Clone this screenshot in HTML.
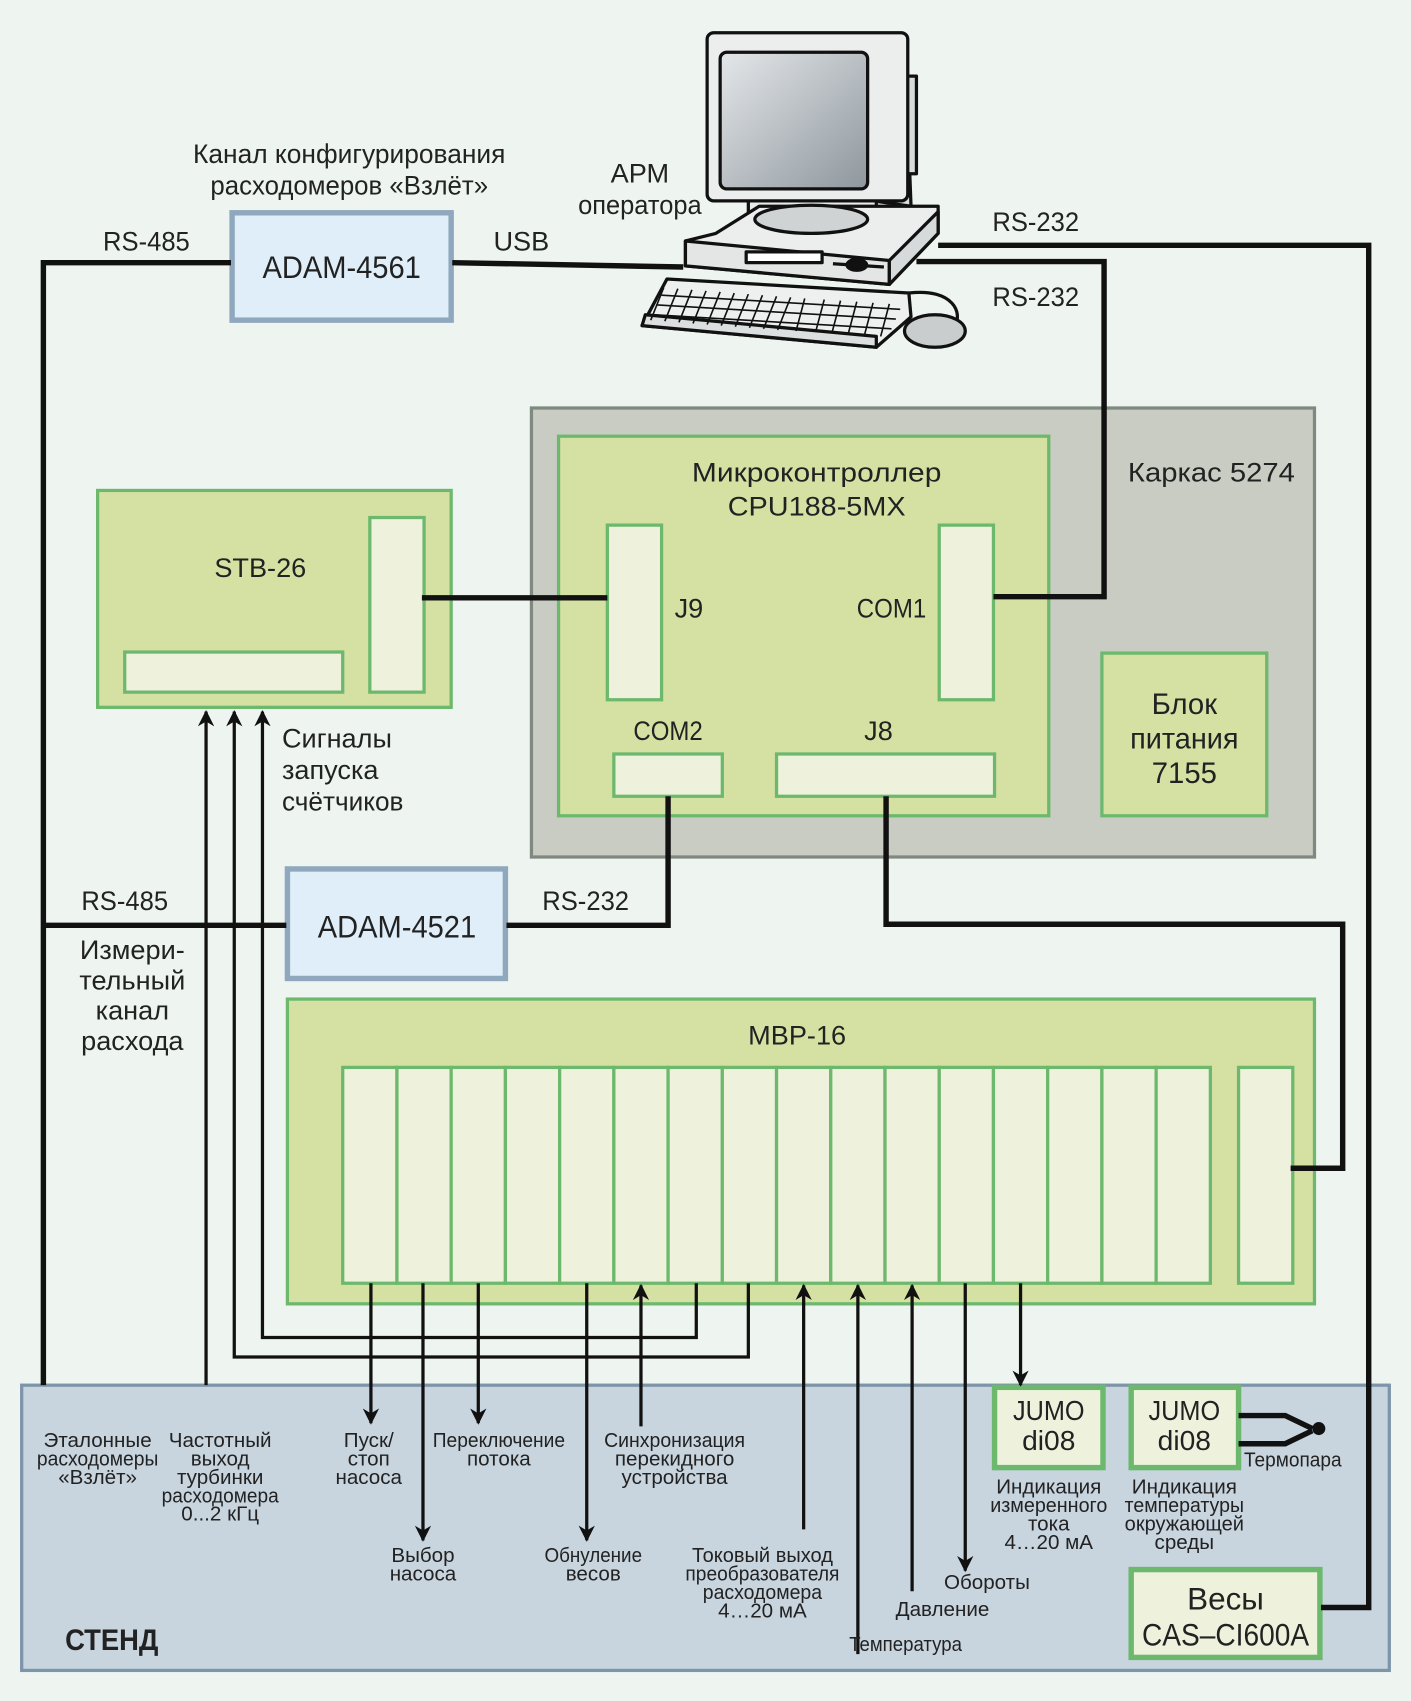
<!DOCTYPE html>
<html><head><meta charset="utf-8"><style>
html,body{margin:0;padding:0;background:#eef5f1}
svg{display:block}
text{font-family:"Liberation Sans Narrow","Liberation Sans","DejaVu Sans Condensed",sans-serif;fill:#222}
</style></head><body>
<svg width="1411" height="1701" viewBox="0 0 1301 1568" xmlns="http://www.w3.org/2000/svg">
<defs>
<marker id="ah" viewBox="0 0 10 10" refX="9" refY="5" markerWidth="7" markerHeight="5" orient="auto" markerUnits="strokeWidth">
<path d="M0,0 L10,5 L0,10 L3,5 z" fill="#111"/></marker>
<linearGradient id="scr" x1="0" y1="0" x2="1" y2="1"><stop offset="0" stop-color="#e4e7e9"/><stop offset="1" stop-color="#8e979e"/></linearGradient>
</defs>
<rect width="1301" height="1568" fill="#eef5f1"/>

<rect x="20" y="1277" width="1261" height="263" fill="#c8d5df" stroke="#7d95a8" stroke-width="3"/>

<rect x="490" y="376" width="722" height="414" fill="#c9ccc3" stroke="#7f8980" stroke-width="3"/>
<rect x="515" y="402" width="452" height="350" fill="#d5e0a3" stroke="#6cb86c" stroke-width="3"/>
<g fill="#eef2dc" stroke="#6cb86c" stroke-width="3">
<rect x="560" y="484" width="50" height="161"/>
<rect x="866" y="484" width="50" height="161"/>
<rect x="566" y="695" width="100" height="39"/>
<rect x="716" y="695" width="201" height="39"/>
</g>
<rect x="1016" y="602" width="152" height="150" fill="#d5e0a3" stroke="#6cb86c" stroke-width="3"/>

<rect x="90" y="452" width="326" height="200" fill="#d5e0a3" stroke="#6cb86c" stroke-width="3"/>
<rect x="341" y="477" width="50" height="161" fill="#eef2dc" stroke="#6cb86c" stroke-width="3"/>
<rect x="115" y="601" width="201" height="37" fill="#eef2dc" stroke="#6cb86c" stroke-width="3"/>

<rect x="214" y="196" width="202" height="99" fill="#dfeef8" stroke="#8fa8bd" stroke-width="5"/>
<rect x="265" y="801" width="201" height="101" fill="#dfeef8" stroke="#8fa8bd" stroke-width="5"/>

<rect x="265" y="921" width="947" height="281" fill="#d5e0a3" stroke="#6cb86c" stroke-width="3"/>
<g fill="#eef2dc" stroke="#6cb86c" stroke-width="3">
<rect x="316" y="984" width="50" height="199"/><rect x="366" y="984" width="50" height="199"/>
<rect x="416" y="984" width="50" height="199"/><rect x="466" y="984" width="50" height="199"/>
<rect x="516" y="984" width="50" height="199"/><rect x="566" y="984" width="50" height="199"/>
<rect x="616" y="984" width="50" height="199"/><rect x="666" y="984" width="50" height="199"/>
<rect x="716" y="984" width="50" height="199"/><rect x="766" y="984" width="50" height="199"/>
<rect x="816" y="984" width="50" height="199"/><rect x="866" y="984" width="50" height="199"/>
<rect x="916" y="984" width="50" height="199"/><rect x="966" y="984" width="50" height="199"/>
<rect x="1016" y="984" width="50" height="199"/><rect x="1066" y="984" width="50" height="199"/>
<rect x="1142" y="984" width="50" height="199"/>
</g>

<g fill="#eef2dc" stroke="#6cb86c" stroke-width="5">
<rect x="917" y="1279" width="100" height="74"/>
<rect x="1043" y="1279" width="99" height="74"/>
<rect x="1043" y="1447" width="174" height="81"/>
</g>

<g fill="none" stroke="#111" stroke-width="5" stroke-linejoin="miter">
<polyline points="40,1277 40,242 213,242"/>
<polyline points="417,242 630,246"/>
<polyline points="865,226 1262,226 1262,1482 1218,1482"/>
<polyline points="845,241 1018,241 1018,550 916,550"/>
<polyline points="389,551 560,551"/>
<polyline points="616,734 616,853 467,853"/>
<polyline points="40,853 264,853"/>
<polyline points="817,734 817,852 1238,852 1238,1077 1190,1077"/>
<polyline points="1142,1305 1185,1305 1210,1317"/>
<polyline points="1142,1331 1185,1331 1210,1319"/>
</g>
<circle cx="1216" cy="1317" r="6" fill="#111"/>
<g fill="none" stroke="#111" stroke-width="3">
<polyline points="642,1183 642,1233 242,1233 242,656" marker-end="url(#ah)"/>
<polyline points="690,1183 690,1251 216,1251 216,656" marker-end="url(#ah)"/>
<polyline points="190,1277 190,656" marker-end="url(#ah)"/>
<line x1="342" y1="1183" x2="342" y2="1312" marker-end="url(#ah)"/>
<line x1="390" y1="1183" x2="390" y2="1420" marker-end="url(#ah)"/>
<line x1="441" y1="1183" x2="441" y2="1312" marker-end="url(#ah)"/>
<line x1="541" y1="1183" x2="541" y2="1420" marker-end="url(#ah)"/>
<line x1="591" y1="1315" x2="591" y2="1185" marker-end="url(#ah)"/>
<line x1="741" y1="1410" x2="741" y2="1185" marker-end="url(#ah)"/>
<line x1="791" y1="1525" x2="791" y2="1185" marker-end="url(#ah)"/>
<line x1="841" y1="1467" x2="841" y2="1185" marker-end="url(#ah)"/>
<line x1="890" y1="1183" x2="890" y2="1448" marker-end="url(#ah)"/>
<line x1="941" y1="1183" x2="941" y2="1277" marker-end="url(#ah)"/>
</g>

<!-- computer -->
<g stroke="#111" stroke-width="3" stroke-linejoin="round">
<path d="M800,40 L835,60 L840,190 L805,185 z" fill="#d9dcdc"/>
<rect x="823" y="70" width="22" height="90" fill="#d9dcdc"/>
<path d="M690,172 L808,172 L808,195 L690,195 z" fill="#e9ebeb"/>
<path d="M660,215 L700,190 L865,190 L865,215 L820,262 L632,245 L632,222 z" fill="#eceeee"/>
<path d="M632,222 L820,240 L820,262 L632,245 z" fill="#e4e6e6"/>
<path d="M820,240 L865,195 L865,215 L820,262 z" fill="#d7dadb"/>
<ellipse cx="748" cy="202" rx="52" ry="13" fill="#d0d3d3"/>
<rect x="688" y="232" width="70" height="10" fill="#fff"/>
<line x1="768" y1="243" x2="815" y2="246"/>
<ellipse cx="790" cy="244" rx="9" ry="5" fill="#111"/>
<rect x="652" y="30" width="185" height="155" rx="6" fill="#eceeee"/>
<rect x="664" y="48" width="136" height="126" rx="6" fill="url(#scr)"/>
<path d="M615,257 L838,270 L840,292 L808,320 L592,300 z" fill="#eef0f0"/>
<path d="M592,300 L808,320 L808,310 L595,290 z" fill="#dcdfdf"/>
<path d="M838,270 C880,265 888,290 880,300" fill="none"/>
<ellipse cx="862" cy="305" rx="28" ry="15" fill="#c9cdcd"/>
</g>
<g stroke="#111" stroke-width="1.5" fill="none">
<path d="M612,265 L600,295 M625,266 L613,296 M638,267 L626,297 M651,268 L639,298 M664,269 L652,299 M677,270 L665,300 M690,271 L678,301 M703,272 L691,302 M716,273 L704,303 M729,274 L717,304 M742,275 L734,305 M760,276 L752,306 M775,277 L767,307 M790,278 L782,308 M805,279 L797,309 M820,280 L812,310"/>
<path d="M610,272 L830,285 M606,281 L826,294 M602,290 L822,303"/>
</g>

<g font-size="25">
<text x="322" y="150" text-anchor="middle" textLength="288" lengthAdjust="spacingAndGlyphs">Канал конфигурирования</text>
<text x="322" y="179" text-anchor="middle" textLength="256" lengthAdjust="spacingAndGlyphs">расходомеров «Взлёт»</text>
<text x="590" y="168" text-anchor="middle">АРМ</text>
<text x="590" y="197" text-anchor="middle" textLength="114" lengthAdjust="spacingAndGlyphs">оператора</text>
<text x="95" y="231" textLength="80" lengthAdjust="spacingAndGlyphs">RS-485</text>
<text x="455" y="231">USB</text>
<text x="915" y="213" textLength="80" lengthAdjust="spacingAndGlyphs">RS-232</text>
<text x="915" y="282" textLength="80" lengthAdjust="spacingAndGlyphs">RS-232</text>
<text x="1040" y="444" textLength="154" lengthAdjust="spacingAndGlyphs">Каркас 5274</text>
<text x="753" y="444" text-anchor="middle" textLength="230" lengthAdjust="spacingAndGlyphs">Микроконтроллер</text>
<text x="753" y="475" text-anchor="middle" textLength="164" lengthAdjust="spacingAndGlyphs">CPU188-5MX</text>
<text x="622" y="569">J9</text>
<text x="790" y="569" textLength="64" lengthAdjust="spacingAndGlyphs">COM1</text>
<text x="616" y="682" text-anchor="middle" textLength="64" lengthAdjust="spacingAndGlyphs">COM2</text>
<text x="810" y="682" text-anchor="middle">J8</text>
<text x="1092" y="658" text-anchor="middle" font-size="27">Блок</text>
<text x="1092" y="690" text-anchor="middle" font-size="27" textLength="100" lengthAdjust="spacingAndGlyphs">питания</text>
<text x="1092" y="722" text-anchor="middle" font-size="27">7155</text>
<text x="240" y="532" text-anchor="middle">STB-26</text>
<text x="260" y="689">Сигналы</text>
<text x="260" y="718">запуска</text>
<text x="260" y="747" textLength="112" lengthAdjust="spacingAndGlyphs">счётчиков</text>
<text x="75" y="839" textLength="80" lengthAdjust="spacingAndGlyphs">RS-485</text>
<text x="500" y="839" textLength="80" lengthAdjust="spacingAndGlyphs">RS-232</text>
<text x="122" y="884" text-anchor="middle">Измери-</text>
<text x="122" y="912" text-anchor="middle">тельный</text>
<text x="122" y="940" text-anchor="middle">канал</text>
<text x="122" y="968" text-anchor="middle">расхода</text>
<text x="735" y="963" text-anchor="middle">MBP-16</text>
<text x="315" y="256" text-anchor="middle" font-size="29" textLength="146" lengthAdjust="spacingAndGlyphs">ADAM-4561</text>
<text x="366" y="864" text-anchor="middle" font-size="29" textLength="146" lengthAdjust="spacingAndGlyphs">ADAM-4521</text>
<text x="967" y="1309" text-anchor="middle" font-size="26" textLength="66" lengthAdjust="spacingAndGlyphs">JUMO</text>
<text x="967" y="1337" text-anchor="middle" font-size="26">di08</text>
<text x="1092" y="1309" text-anchor="middle" font-size="26" textLength="66" lengthAdjust="spacingAndGlyphs">JUMO</text>
<text x="1092" y="1337" text-anchor="middle" font-size="26">di08</text>
<text x="1130" y="1484" text-anchor="middle" font-size="29">Весы</text>
<text x="1130" y="1517" text-anchor="middle" font-size="29" textLength="154" lengthAdjust="spacingAndGlyphs">CAS–CI600A</text>
<text x="60" y="1521" font-size="27" font-weight="bold" textLength="86" lengthAdjust="spacingAndGlyphs">СТЕНД</text>
</g>
<g font-size="19" text-anchor="middle">
<text x="90" y="1334">Эталонные</text><text x="90" y="1351" textLength="112" lengthAdjust="spacingAndGlyphs">расходомеры</text><text x="90" y="1368">«Взлёт»</text>
<text x="203" y="1334">Частотный</text><text x="203" y="1351">выход</text><text x="203" y="1368">турбинки</text><text x="203" y="1385" textLength="108" lengthAdjust="spacingAndGlyphs">расходомера</text><text x="203" y="1402">0...2 кГц</text>
<text x="340" y="1334">Пуск/</text><text x="340" y="1351">стоп</text><text x="340" y="1368">насоса</text>
<text x="460" y="1334" textLength="122" lengthAdjust="spacingAndGlyphs">Переключение</text><text x="460" y="1351">потока</text>
<text x="622" y="1334" textLength="130" lengthAdjust="spacingAndGlyphs">Синхронизация</text><text x="622" y="1351">перекидного</text><text x="622" y="1368">устройства</text>
<text x="390" y="1440">Выбор</text><text x="390" y="1457">насоса</text>
<text x="547" y="1440" textLength="90" lengthAdjust="spacingAndGlyphs">Обнуление</text><text x="547" y="1457">весов</text>
<text x="703" y="1440" textLength="130" lengthAdjust="spacingAndGlyphs">Токовый выход</text><text x="703" y="1457" textLength="142" lengthAdjust="spacingAndGlyphs">преобразователя</text><text x="703" y="1474" textLength="110" lengthAdjust="spacingAndGlyphs">расходомера</text><text x="703" y="1491">4…20 мА</text>
<text x="835" y="1522" textLength="104" lengthAdjust="spacingAndGlyphs">Температура</text>
<text x="869" y="1490">Давление</text>
<text x="910" y="1465">Обороты</text>
<text x="967" y="1377">Индикация</text><text x="967" y="1394" textLength="108" lengthAdjust="spacingAndGlyphs">измеренного</text><text x="967" y="1411">тока</text><text x="967" y="1428">4…20 мА</text>
<text x="1092" y="1377">Индикация</text><text x="1092" y="1394" textLength="110" lengthAdjust="spacingAndGlyphs">температуры</text><text x="1092" y="1411" textLength="110" lengthAdjust="spacingAndGlyphs">окружающей</text><text x="1092" y="1428">среды</text>
<text x="1192" y="1352" textLength="90" lengthAdjust="spacingAndGlyphs">Термопара</text>
</g>
</svg>
</body></html>
